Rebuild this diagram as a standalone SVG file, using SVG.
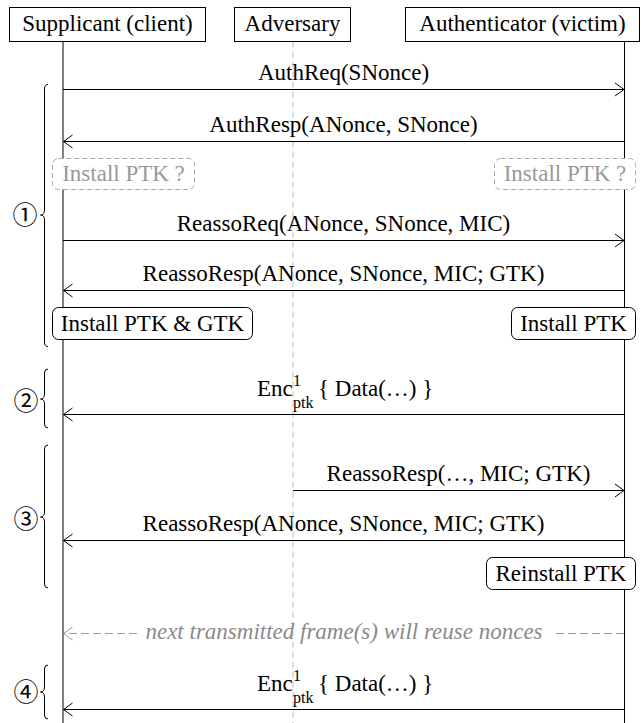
<svg xmlns="http://www.w3.org/2000/svg" width="644" height="723" viewBox="0 0 644 723">
<style>
text { font-family: 'Liberation Serif', 'DejaVu Serif', 'Times New Roman', serif; font-size: 23px; fill: #000; }
.c { text-anchor: middle; }
.hdr { fill: #fff; stroke: #000; stroke-width: 1; }
.life { stroke: #000; stroke-width: 1; fill: none; }
.adv { stroke: #bdbdbd; stroke-width: 1; stroke-dasharray: 6 4; fill: none; }
.msg { stroke: #000; stroke-width: 1; fill: none; marker-end: url(#ah); }
.gmsg { stroke: #999; stroke-width: 1; stroke-dasharray: 8 4; fill: none; }
.box { fill: #fff; stroke: #000; stroke-width: 1; }
.dbox { fill: #fff; stroke: #aaa; stroke-width: 1; stroke-dasharray: 5 3; }
.gt { fill: #999; }
.it { fill: #8a8a8a; font-style: italic; }
.brace { fill: none; stroke: #000; stroke-width: 1; }
.num { font-family: 'Noto Sans CJK JP', 'DejaVu Sans', sans-serif; font-size: 25px; text-anchor: middle; dominant-baseline: central; }
.sm { font-size: 16px; }
</style>
<defs>
<marker id="ah" markerUnits="userSpaceOnUse" markerWidth="12" markerHeight="16" viewBox="-10 -8 12 16" refX="0" refY="0" orient="auto">
<path d="M -9 -6.5 L 0 0 L -9 6.5" fill="none" stroke="#000" stroke-width="1"/>
</marker>
<marker id="gah" markerUnits="userSpaceOnUse" markerWidth="12" markerHeight="16" viewBox="-10 -8 12 16" refX="0" refY="0" orient="auto">
<path d="M -9 -6.5 L 0 0 L -9 6.5" fill="none" stroke="#999" stroke-width="1"/>
</marker>
</defs>
<rect width="644" height="723" fill="#fff"/>

<g id="lifelines">
<line class="life" x1="63" y1="41.5" x2="63" y2="723"/>
<line class="adv" x1="293" y1="41.5" x2="293" y2="723"/>
<line class="life" x1="624.5" y1="41.5" x2="624.5" y2="723"/>
</g>

<g id="supplicant"><rect class="hdr" x="9.5" y="7.5" width="196" height="34"/><text class="c" x="107.5" y="31">Supplicant (client)</text></g>
<g id="adversary"><rect class="hdr" x="234.5" y="7.5" width="116" height="34"/><text class="c" x="292.5" y="31">Adversary</text></g>
<g id="authenticator"><rect class="hdr" x="405.5" y="7.5" width="234" height="34"/><text class="c" x="522.5" y="31">Authenticator (victim)</text></g>

<g id="phases">
<path class="brace" d="M 48 84.5 Q 44.5 84.5 44.5 89 L 44.5 210 Q 44.5 215 40.5 215 Q 44.5 215 44.5 220 L 44.5 342 Q 44.5 346.5 48 346.5"/>
<text class="num" x="25" y="213">①</text>
<path class="brace" d="M 48 369 Q 44.5 369 44.5 373 L 44.5 394 Q 44.5 399 40.5 399 Q 44.5 399 44.5 404 L 44.5 424 Q 44.5 428 48 428"/>
<text class="num" x="26" y="399">②</text>
<path class="brace" d="M 48 445 Q 44.5 445 44.5 449 L 44.5 512 Q 44.5 517 40.5 517 Q 44.5 517 44.5 522 L 44.5 584 Q 44.5 588 48 588"/>
<text class="num" x="26" y="517">③</text>
<path class="brace" d="M 48 665 Q 44.5 665 44.5 669 L 44.5 687 Q 44.5 692 40.5 692 Q 44.5 692 44.5 697 L 44.5 715 Q 44.5 719 48 719"/>
<text class="num" x="26" y="690">④</text>
</g>

<g id="connectors">
<line class="msg" x1="63" y1="89.5" x2="624" y2="89.5"/>
<line class="msg" x1="624" y1="141.5" x2="63.5" y2="141.5"/>
<line class="msg" x1="63" y1="240.5" x2="624" y2="240.5"/>
<line class="msg" x1="624" y1="290.5" x2="63.5" y2="290.5"/>
<line class="msg" x1="624" y1="414.5" x2="63.5" y2="414.5"/>
<line class="msg" x1="293" y1="490.5" x2="624" y2="490.5"/>
<line class="msg" x1="624" y1="540.5" x2="63.5" y2="540.5"/>
<line class="gmsg" x1="624" y1="633.5" x2="553" y2="633.5"/>
<line class="gmsg" x1="137" y1="633.5" x2="63.5" y2="633.5" style="marker-end:url(#gah)"/>
<line class="msg" x1="624" y1="709.5" x2="63.5" y2="709.5"/>
</g>

<g id="labels">
<text class="c" x="343.5" y="80">AuthReq(SNonce)</text>
<text class="c" x="343.5" y="132">AuthResp(ANonce, SNonce)</text>
<text class="c" x="343.5" y="231">ReassoReq(ANonce, SNonce, MIC)</text>
<text class="c" x="343.5" y="281">ReassoResp(ANonce, SNonce, MIC; GTK)</text>
<text x="257" y="396">Enc<tspan class="sm" x="293" y="386">1</tspan><tspan class="sm" x="293" y="408">ptk</tspan><tspan x="318" y="396">{ Data(…) }</tspan></text>
<text class="c" x="458.5" y="481">ReassoResp(…, MIC; GTK)</text>
<text class="c" x="343.5" y="531">ReassoResp(ANonce, SNonce, MIC; GTK)</text>
<text class="c it" x="344" y="639">next transmitted frame(s) will reuse nonces</text>
<text x="257" y="691">Enc<tspan class="sm" x="293" y="681">1</tspan><tspan class="sm" x="293" y="703">ptk</tspan><tspan x="318" y="691">{ Data(…) }</tspan></text>
</g>

<g id="install-ptk-q-supp"><rect class="dbox" x="52.5" y="158.5" width="142" height="31" rx="6"/><text class="c gt" x="123.5" y="181">Install PTK ?</text></g>
<g id="install-ptk-q-auth"><rect class="dbox" x="494.5" y="158.5" width="141" height="31" rx="6"/><text class="c gt" x="565" y="181">Install PTK ?</text></g>
<g id="install-ptk-gtk"><rect class="box" x="52.5" y="307.5" width="200" height="32" rx="6"/><text class="c" x="152.5" y="331">Install PTK &amp; GTK</text></g>
<g id="install-ptk"><rect class="box" x="511.5" y="307.5" width="124" height="32" rx="6"/><text class="c" x="573.5" y="331">Install PTK</text></g>
<g id="reinstall-ptk"><rect class="box" x="486.5" y="557.5" width="149" height="32" rx="6"/><text class="c" x="561" y="581">Reinstall PTK</text></g>
</svg>
